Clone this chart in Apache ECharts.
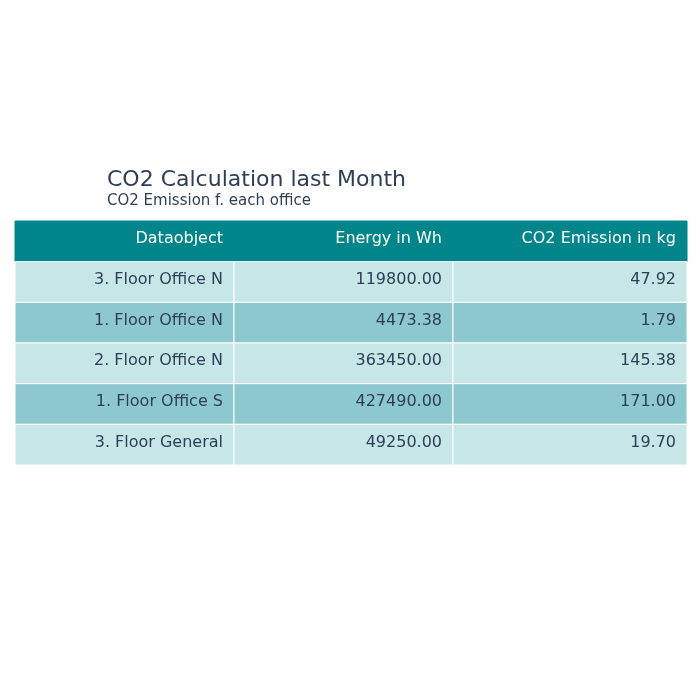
<!DOCTYPE html>
<html><head><meta charset="utf-8">
<script src="https://cdn.jsdelivr.net/npm/echarts@6/dist/echarts.min.js"></script>
<style>html,body{margin:0;background:#fff}#c{width:700px;height:700px}</style>
</head><body><div id="c"></div>
<script>
const headers = ['Dataobject', 'Energy in Wh', 'CO2 Emission in kg'];
const objects = ['3. Floor Office N', '1. Floor Office N', '2. Floor Office N', '1. Floor Office S', '3. Floor General'];
const energy = ['119800.00', '4473.38', '363450.00', '427490.00', '49250.00'];
const co2 = ['47.92', '1.79', '145.38', '171.00', '19.70'];

const colEdges = [0, 219, 438, 672]; // layout
const cols = [objects, energy, co2];
const data = [];
headers.forEach((h, c) => data.push([c, 0, h]));
for (let r = 0; r < objects.length; r++) for (let c = 0; c < 3; c++) data.push([c, r + 1, cols[c][r]]);

const chart = echarts.init(document.getElementById('c'));
chart.setOption({
  animation: false,
  title: {
    text: 'CO2 Calculation last Month', subtext: 'CO2 Emission f. each office',
    left: 102, top: 164, itemGap: 3,
    textStyle: { fontFamily: 'DejaVu Sans', fontSize: 22, fontWeight: 'normal', color: '#2e3f55' },
    subtextStyle: { fontFamily: 'DejaVu Sans', fontSize: 15, color: '#2e3f55' }
  },
  grid: { left: 15, right: 13, top: 221, height: 244 },
  xAxis: { type: 'value', min: 0, max: 672, show: false },
  yAxis: { type: 'category', data: [0, 1, 2, 3, 4, 5], inverse: true, show: false },
  series: [{
    type: 'custom', data: data,
    renderItem: function (params, api) {
      const c = api.value(0), r = api.value(1), t = data[params.dataIndex][2];
      const p0 = api.coord([colEdges[c], r]); const p1 = api.coord([colEdges[c + 1], r]);
      const h = api.size([0, 1])[1];
      const fill = r === 0 ? '#00868a' : (r % 2 === 1 ? '#c6e6e8' : '#8cc8ce');
      return { type: 'group', children: [
        { type: 'rect', shape: { x: p0[0], y: p0[1] - h / 2, width: p1[0] - p0[0], height: h },
          style: { fill: fill, stroke: r === 0 ? fill : '#ffffff', lineWidth: 1 } },
        { type: 'text', x: p1[0] - 11, y: p0[1] - 2,
          style: { text: t, textAlign: 'right', textVerticalAlign: 'middle', fontFamily: 'DejaVu Sans', fontSize: 16,
            fill: r === 0 ? '#ffffff' : '#2e3f55' } }
      ]};
    }
  }]
});
</script></body></html>
